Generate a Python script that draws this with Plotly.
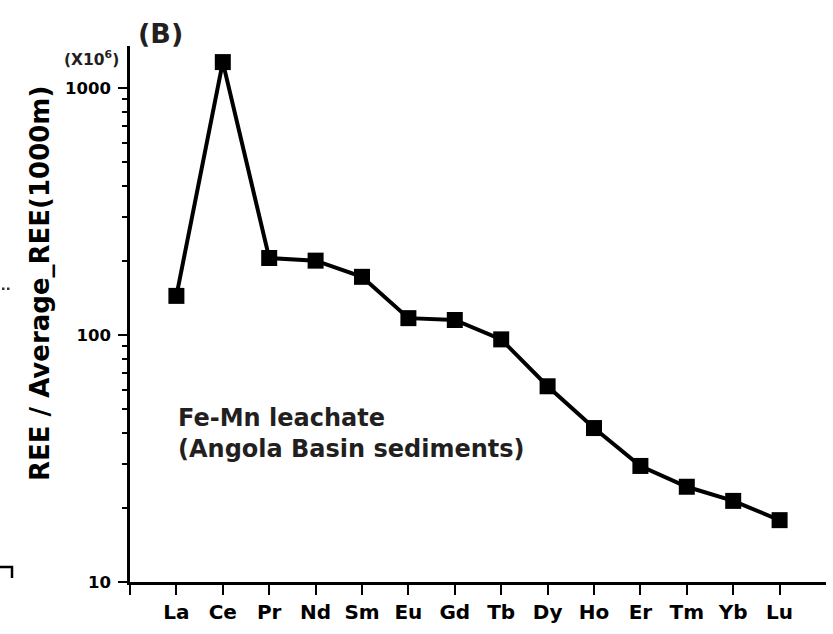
import plotly.graph_objects as go

elements = ["La", "Ce", "Pr", "Nd", "Sm", "Eu", "Gd", "Tb", "Dy", "Ho", "Er", "Tm", "Yb", "Lu"]
values = [144, 1273, 205, 200, 172, 117, 115, 96, 62, 42, 29.5, 24.3, 21.3, 17.8]
positions = list(range(1, len(elements) + 1))
y_major = [10, 100, 1000]
y_minor = [20, 30, 40, 50, 60, 70, 80, 90, 200, 300, 400, 500, 600, 700, 800, 900]

W, H = 833, 634
L, R, T, B = 130, 7, 46, 52
pw, ph = W - L - R, H - T - B
FONT = "DejaVu Sans, Arial, sans-serif"

def px(x):
    return (x - L) / pw

def py(y):
    return (H - B - y) / ph

fig = go.Figure()
fig.add_trace(go.Scatter(
    x=positions, y=values, mode="lines+markers",
    line=dict(color="black", width=4),
    marker=dict(symbol="square", size=16, color="black"),
    showlegend=False, cliponaxis=False,
))

fig.update_layout(
    width=W, height=H,
    margin=dict(l=L, r=R, t=T, b=B),
    plot_bgcolor="white", paper_bgcolor="white",
    font=dict(family=FONT, color="black"),
    xaxis=dict(
        range=[0, 15], tickmode="array", tickvals=[0] + positions,
        ticktext=[""] + elements, automargin=False,
        showline=True, linecolor="black", linewidth=2.5,
        ticks="outside", ticklen=10, tickwidth=2, tickcolor="black",
        showgrid=False, zeroline=False,
        tickfont=dict(family=FONT, size=20, weight="bold", color="black"),
    ),
    yaxis=dict(
        type="log", range=[1, 3.17], tickmode="array", tickvals=y_major,
        ticktext=[str(v) for v in y_major], automargin=False,
        showline=True, linecolor="black", linewidth=2.5,
        ticks="outside", ticklen=9, tickwidth=2, tickcolor="black",
        ticklabelstandoff=4,
        showgrid=False, zeroline=False,
        tickfont=dict(family=FONT, size=16.5, weight="bold", color="black"),
        minor=dict(tickmode="array", tickvals=y_minor, ticks="outside", ticklen=5,
                   tickwidth=2, tickcolor="black", showgrid=False),
    ),
)

fig.add_annotation(
    xref="paper", yref="paper", x=px(40), y=py(284), xanchor="center", yanchor="middle",
    text="REE / Average_REE(1000m)", textangle=-90, showarrow=False,
    font=dict(family=FONT, size=26, weight="bold", color="black"),
)
fig.add_annotation(
    xref="paper", yref="paper", x=px(160), y=py(33), xanchor="center", yanchor="middle",
    text="(B)", showarrow=False,
    font=dict(family=FONT, size=27, weight="bold", color="#231f20"),
)
fig.add_annotation(
    xref="paper", yref="paper", x=px(91), y=py(59), xanchor="center", yanchor="middle",
    text="(X10<sup>6</sup>)", showarrow=False,
    font=dict(family=FONT, size=15.5, weight="bold", color="#231f20"),
)
fig.add_annotation(
    xref="paper", yref="paper", x=px(176), y=py(433), xanchor="left", yanchor="middle",
    text="Fe-Mn leachate<br>(Angola Basin sediments)", showarrow=False, align="left",
    font=dict(family=FONT, size=24, weight="bold", color="#231f20"),
)
# stray marks from neighbouring panel
fig.add_shape(type="path", xref="paper", yref="paper",
              path=f"M {px(0)},{py(567)} L {px(12)},{py(567)} L {px(12)},{py(578)}",
              line=dict(color="black", width=2.5))
for sx in (2, 7):
    fig.add_shape(type="rect", xref="paper", yref="paper",
                  x0=px(sx), x1=px(sx + 2.5), y0=py(290), y1=py(287.5),
                  line=dict(width=0), fillcolor="#333")

fig.write_html("out.html")
